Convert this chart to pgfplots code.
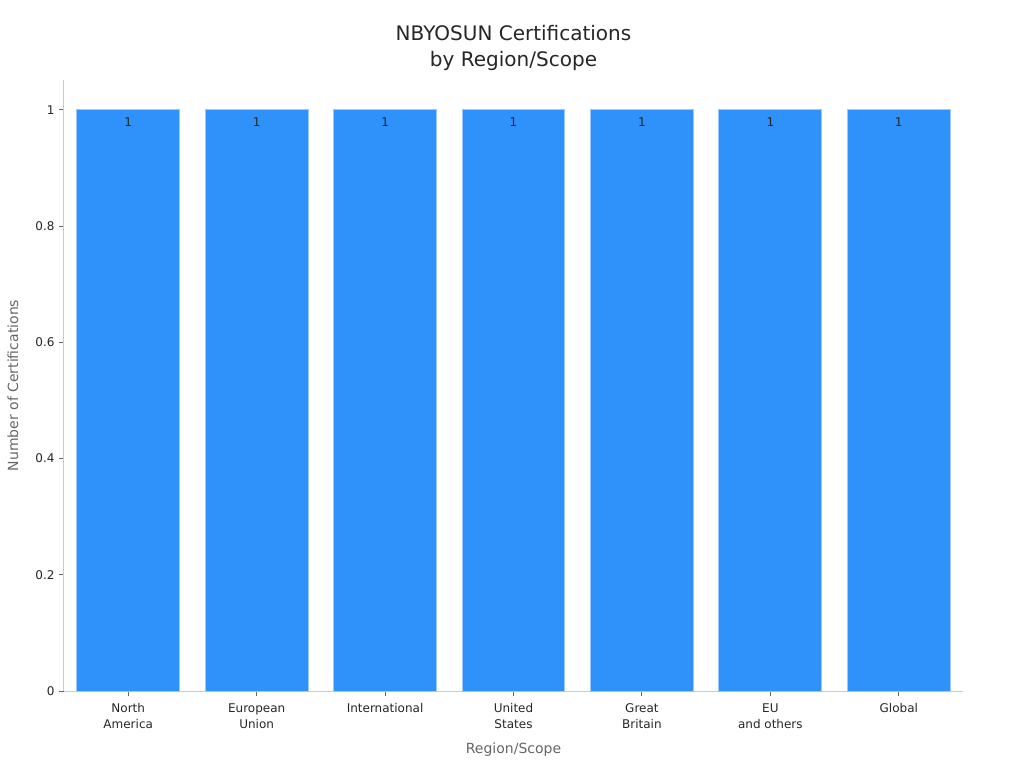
\documentclass[border=0pt]{standalone}
\usepackage{pgfplots}
\pgfplotsset{compat=1.18}
\usepackage{fontspec}
\setmainfont{DejaVu Sans}
\definecolor{barblue}{HTML}{2F91FA}
\definecolor{baredge}{HTML}{9CCBFB}
\definecolor{spine}{HTML}{CCCCCC}
\definecolor{ticktxt}{HTML}{262626}
\definecolor{labtxt}{HTML}{666666}
\definecolor{titletxt}{HTML}{262626}
\begin{document}
\begin{tikzpicture}[x=1pt,y=1pt]
\useasboundingbox (-64,-77) rectangle (960,691);
\begin{axis}[
  at={(0,0)}, anchor=south west,
  scale only axis, width=899pt, height=611pt,
  xmin=-0.5, xmax=6.5, ymin=0, ymax=1.0516,
  axis x line*=bottom, axis y line*=left,
  axis line style={-, spine, line width=1pt},
  tick align=outside, major tick length=5pt,
  tick style={labtxt, line width=1pt},
  xtick={0,1,2,3,4,5,6},
  xticklabels={North\\America, European\\Union, International, United\\States, Great\\Britain, EU\\and others, Global},
  ytick={0,0.2,0.4,0.6,0.8,1},
  yticklabels={0,0.2,0.4,0.6,0.8,1},
  /pgf/number format/assume math mode=true,
  xticklabel style={align=center, font=\fontsize{12}{16}\selectfont, text=ticktxt, yshift=-4pt},
  yticklabel style={font=\fontsize{12}{14}\selectfont, text=ticktxt, xshift=-1pt},
  xlabel={Region/Scope},
  ylabel={Number of Certifications},
  xlabel style={at={(axis description cs:0.5,-0.0966)}, anchor=center, font=\fontsize{14}{16}\selectfont, text=labtxt},
  ylabel style={at={(axis description cs:-0.0567,0.5)}, anchor=center, font=\fontsize{14}{16}\selectfont, text=labtxt},
  title={NBYOSUN Certifications\\by Region/Scope},
  title style={at={(axis description cs:0.5,1.0425)}, anchor=center, align=center, font=\fontsize{20}{26}\selectfont, text=titletxt},
  ybar, bar width=0.8,
  nodes near coords,
  every node near coord/.append style={anchor=north, yshift=-3.5pt, font=\fontsize{12}{14}\selectfont, text=ticktxt},
  clip=false,
]
\addplot[fill=barblue, draw=baredge, line width=1pt] coordinates {
  (0,1) (1,1) (2,1) (3,1) (4,1) (5,1) (6,1)
};
\end{axis}
\end{tikzpicture}
\end{document}
